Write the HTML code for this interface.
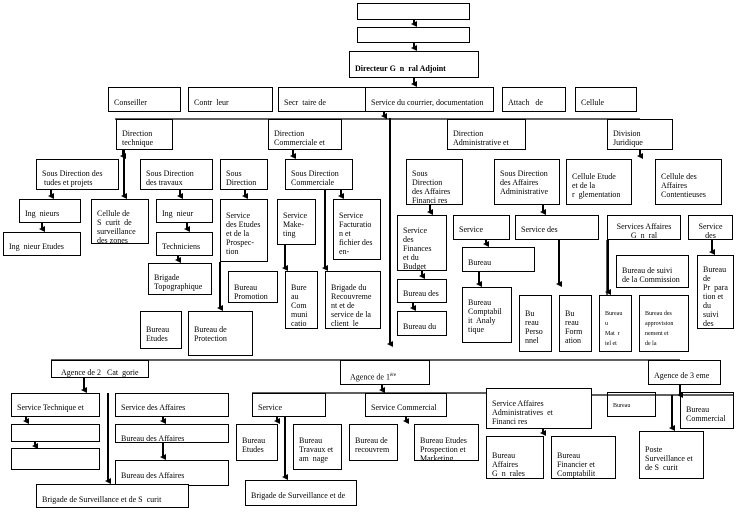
<!DOCTYPE html>
<html><head><meta charset="utf-8"><style>
body{margin:0;width:739px;height:512px;background:#fff;position:relative;overflow:hidden;font-family:"Liberation Serif",serif;font-size:8px;color:#000}
.b{position:absolute;border:1.3px solid #000;background:#fff;box-sizing:border-box;padding:4px 5px;line-height:9px;overflow:hidden}
svg{position:absolute;left:0;top:0;z-index:2}
</style></head><body>
<svg width="739" height="512">
<defs><marker id="a" markerWidth="6" markerHeight="6" refX="3" refY="3" orient="auto" markerUnits="userSpaceOnUse" viewBox="0 0 6 6"><path d="M0,0 L6,0 L3,6 z" fill="#000"/></marker></defs>
<g stroke="#000" stroke-width="1.3" fill="none">
<line x1="115" y1="119" x2="640" y2="119"/>
<line x1="51" y1="360" x2="680" y2="360"/>
<line x1="252" y1="393" x2="486" y2="393"/>
<line x1="591" y1="395" x2="733" y2="395"/>
<line x1="607" y1="240" x2="607" y2="295"/>
</g>
<g stroke="#000" stroke-width="2" marker-end="url(#a)">
<line x1="414" y1="19" x2="414" y2="24"/>
<line x1="414" y1="42" x2="414" y2="48"/>
<line x1="414" y1="78" x2="414" y2="84"/>
<line x1="384" y1="112" x2="384" y2="116"/>
<line x1="390" y1="118" x2="390" y2="344"/>
<line x1="123" y1="150" x2="123" y2="156"/>
<line x1="124" y1="150" x2="124" y2="196"/>
<line x1="293" y1="150" x2="293" y2="156"/>
<line x1="51" y1="190" x2="51" y2="196"/>
<line x1="42" y1="223" x2="42" y2="229"/>
<line x1="180" y1="190" x2="180" y2="196"/>
<line x1="187" y1="223" x2="187" y2="229"/>
<line x1="178" y1="256" x2="178" y2="260"/>
<line x1="245" y1="190" x2="245" y2="196"/>
<line x1="325" y1="190" x2="325" y2="268"/>
<line x1="341" y1="190" x2="341" y2="196"/>
<line x1="285" y1="245" x2="285" y2="268"/>
<line x1="220" y1="262" x2="220" y2="308"/>
<line x1="430" y1="205" x2="430" y2="212"/>
<line x1="543" y1="205" x2="543" y2="212"/>
<line x1="640" y1="150" x2="640" y2="156"/>
<line x1="486" y1="240" x2="486" y2="244"/>
<line x1="559" y1="240" x2="559" y2="284"/>
<line x1="608" y1="240" x2="608" y2="292"/>
<line x1="712" y1="240" x2="712" y2="252"/>
<line x1="479" y1="272" x2="479" y2="284"/>
<line x1="422" y1="271" x2="422" y2="276"/>
<line x1="413" y1="303" x2="413" y2="308"/>
<line x1="84" y1="377" x2="84" y2="390"/>
<line x1="108" y1="393" x2="108" y2="481"/>
<line x1="26" y1="416" x2="26" y2="421"/>
<line x1="35" y1="442" x2="35" y2="446"/>
<line x1="163" y1="416" x2="163" y2="421"/>
<line x1="163" y1="443" x2="163" y2="457"/>
<line x1="382" y1="385" x2="382" y2="390"/>
<line x1="277" y1="416" x2="277" y2="421"/>
<line x1="285" y1="416" x2="285" y2="477"/>
<line x1="406" y1="416" x2="406" y2="421"/>
<line x1="543" y1="428" x2="543" y2="433"/>
<line x1="680" y1="385" x2="680" y2="395"/>
<line x1="672" y1="395" x2="672" y2="428"/>
</g>
</svg>
<div class="b" style="left:357px;top:3px;width:113px;height:17px"></div>
<div class="b" style="left:357px;top:27px;width:113px;height:16px"></div>
<div class="b" style="left:349px;top:51px;width:130px;height:27px;padding-top:12px;font-weight:bold">Directeur G&nbsp;&nbsp;n&nbsp; ral Adjoint</div>
<div class="b" style="left:108px;top:87px;width:73px;height:25px;padding-top:10px">Conseiller</div>
<div class="b" style="left:188px;top:87px;width:85px;height:25px;padding-top:10px">Contr&nbsp; leur</div>
<div class="b" style="left:278px;top:87px;width:88px;height:25px;padding-top:10px">Secr&nbsp; taire de</div>
<div class="b" style="left:365px;top:87px;width:129px;height:25px;padding-top:10px">Service du courrier, documentation</div>
<div class="b" style="left:502px;top:87px;width:64px;height:25px;padding-top:10px">Attach&nbsp;&nbsp; de</div>
<div class="b" style="left:575px;top:87px;width:62px;height:25px;padding-top:10px">Cellule</div>
<div class="b" style="left:116px;top:119px;width:57px;height:31px;padding-top:9px">Direction<br>technique</div>
<div class="b" style="left:268px;top:119px;width:74px;height:31px;padding-top:9px">Direction<br>Commerciale et</div>
<div class="b" style="left:447px;top:119px;width:79px;height:31px;padding-top:9px">Direction<br>Administrative et</div>
<div class="b" style="left:607px;top:119px;width:66px;height:31px;padding-top:9px">Division<br>Juridique</div>
<div class="b" style="left:36px;top:159px;width:83px;height:31px;padding-top:9px">Sous Direction des<br>&nbsp;tudes et projets</div>
<div class="b" style="left:140px;top:159px;width:73px;height:31px;padding-top:9px">Sous Direction<br>des travaux</div>
<div class="b" style="left:220px;top:159px;width:48px;height:31px;padding-top:9px">Sous<br>Direction</div>
<div class="b" style="left:285px;top:159px;width:68px;height:31px;padding-top:9px">Sous Direction<br>Commerciale</div>
<div class="b" style="left:406px;top:159px;width:57px;height:46px;padding-top:9px">Sous<br>Direction<br>des Affaires<br>Financi res</div>
<div class="b" style="left:494px;top:159px;width:66px;height:46px;padding-top:9px">Sous Direction<br>des Affaires<br>Administrative</div>
<div class="b" style="left:566px;top:159px;width:66px;height:46px;padding-top:12px">Cellule Etude<br>et de la<br>r&nbsp; glementation</div>
<div class="b" style="left:655px;top:159px;width:67px;height:46px;padding-top:12px">Cellule des<br>Affaires<br>Contentieuses</div>
<div class="b" style="left:19px;top:199px;width:62px;height:24px;padding-top:9px">Ing&nbsp; nieurs</div>
<div class="b" style="left:3px;top:232px;width:78px;height:24px;padding-top:9px">Ing&nbsp; nieur Etudes</div>
<div class="b" style="left:91px;top:199px;width:58px;height:45px;padding-top:9px">Cellule de<br>S&nbsp; curit&nbsp; de<br>surveillance<br>des zones</div>
<div class="b" style="left:156px;top:199px;width:57px;height:24px;padding-top:9px">Ing&nbsp; nieur</div>
<div class="b" style="left:156px;top:232px;width:57px;height:24px;padding-top:9px">Techniciens</div>
<div class="b" style="left:148px;top:263px;width:64px;height:32px;padding-top:9px">Brigade<br>Topographique</div>
<div class="b" style="left:220px;top:199px;width:48px;height:63px;padding-top:11px">Service<br>des Etudes<br>et de la<br>Prospec-<br>tion</div>
<div class="b" style="left:277px;top:199px;width:39px;height:46px;padding-top:11px">Service<br>Make-<br>ting</div>
<div class="b" style="left:333px;top:199px;width:48px;height:61px;padding-top:11px">Service<br>Facturatio<br>n et<br>fichier des<br>en-</div>
<div class="b" style="left:228px;top:271px;width:50px;height:32px;padding-top:11px">Bureau<br>Promotion</div>
<div class="b" style="left:285px;top:271px;width:33px;height:58px;padding-top:11px">Bure<br>au<br>Com<br>muni<br>catio</div>
<div class="b" style="left:325px;top:271px;width:56px;height:58px;padding-top:11px">Brigade du<br>Recouvreme<br>nt et de<br>service de la<br>client&nbsp; le</div>
<div class="b" style="left:140px;top:311px;width:42px;height:38px;padding-top:13px">Bureau<br>Etudes</div>
<div class="b" style="left:188px;top:311px;width:65px;height:45px;padding-top:13px">Bureau de<br>Protection</div>
<div class="b" style="left:397px;top:215px;width:50px;height:56px;padding-top:10px">Service<br>des<br>Finances<br>et du<br>Budget</div>
<div class="b" style="left:453px;top:215px;width:57px;height:25px;padding-top:9px">Service</div>
<div class="b" style="left:462px;top:247px;width:73px;height:25px;padding-top:10px">Bureau</div>
<div class="b" style="left:397px;top:279px;width:50px;height:24px;padding-top:9px">Bureau des</div>
<div class="b" style="left:397px;top:311px;width:50px;height:25px;padding-top:10px">Bureau du</div>
<div class="b" style="left:462px;top:287px;width:50px;height:56px;padding-top:10px">Bureau<br>Comptabil<br>it&nbsp; Analy<br>tique</div>
<div class="b" style="left:515px;top:215px;width:84px;height:25px;padding-top:9px">Service des</div>
<div class="b" style="left:607px;top:215px;width:74px;height:25px;padding-top:6px;text-align:center">Services Affaires<br>G&nbsp; n&nbsp; ral</div>
<div class="b" style="left:688px;top:215px;width:45px;height:25px;padding-top:6px;text-align:center">Service<br>des</div>
<div class="b" style="left:616px;top:255px;width:73px;height:33px;padding-top:10px">Bureau de suivi<br>de la Commission</div>
<div class="b" style="left:697px;top:255px;width:37px;height:74px;padding-top:9px">Bureau<br>de<br>Pr&nbsp; para<br>tion et<br>du suivi<br>des</div>
<div class="b" style="left:519px;top:295px;width:33px;height:57px;padding-top:13px">Bu<br>reau<br>Perso<br>nnel</div>
<div class="b" style="left:559px;top:295px;width:33px;height:57px;padding-top:13px">Bu<br>reau<br>Form<br>ation</div>
<div class="b" style="left:599px;top:295px;width:33px;height:57px;padding-top:13px;font-size:6px;line-height:10px">Bureau<br>u<br>Mat&nbsp; r<br>iel et<br>entreti</div>
<div class="b" style="left:639px;top:295px;width:50px;height:57px;padding-top:13px;font-size:6px;line-height:10px">Bureau des<br>approvision<br>nement et<br>de la<br>Comptabilit</div>
<div class="b" style="left:51px;top:360px;width:98px;height:18px;padding-top:7px">&nbsp;&nbsp;Agence de 2&nbsp;&nbsp; Cat&nbsp; gorie</div>
<div class="b" style="left:340px;top:360px;width:90px;height:25px;padding-top:10px">&nbsp;&nbsp;Agence de 1<sup style="font-size:5px">ère</sup></div>
<div class="b" style="left:648px;top:360px;width:73px;height:25px;padding-top:10px">Agence de 3 eme</div>
<div class="b" style="left:11px;top:393px;width:89px;height:24px;padding-top:9px">Service Technique et</div>
<div class="b" style="left:115px;top:393px;width:114px;height:24px;padding-top:9px">Service des Affaires</div>
<div class="b" style="left:11px;top:424px;width:89px;height:18px"></div>
<div class="b" style="left:11px;top:448px;width:89px;height:22px"></div>
<div class="b" style="left:115px;top:424px;width:114px;height:19px;padding-top:9px">Bureau des Affaires</div>
<div class="b" style="left:115px;top:460px;width:114px;height:26px;padding-top:10px">Bureau des Affaires</div>
<div class="b" style="left:36px;top:484px;width:153px;height:24px;padding-top:10px">Brigade de Surveillance et de S&nbsp; curit</div>
<div class="b" style="left:252px;top:393px;width:74px;height:24px;padding-top:9px">Service</div>
<div class="b" style="left:365px;top:393px;width:82px;height:24px;padding-top:9px">Service Commercial</div>
<div class="b" style="left:236px;top:424px;width:42px;height:37px;padding-top:11px">Bureau<br>Etudes</div>
<div class="b" style="left:293px;top:424px;width:49px;height:46px;padding-top:11px">Bureau<br>Travaux et<br>am&nbsp; nage</div>
<div class="b" style="left:349px;top:424px;width:49px;height:37px;padding-top:11px">Bureau de<br>recouvrem</div>
<div class="b" style="left:414px;top:424px;width:65px;height:37px;padding-top:11px">Bureau Etudes<br>Prospection et<br>Marketing</div>
<div class="b" style="left:245px;top:480px;width:112px;height:26px;padding-top:10px">Brigade de Surveillance et de</div>
<div class="b" style="left:486px;top:388px;width:106px;height:41px;padding-top:10px">Service Affaires<br>Administratives&nbsp; et<br>Financi res</div>
<div class="b" style="left:486px;top:436px;width:58px;height:43px;padding-top:14px">Bureau<br>Affaires<br>G&nbsp; n&nbsp; rales</div>
<div class="b" style="left:551px;top:436px;width:65px;height:43px;padding-top:14px">Bureau<br>Financier et<br>Comptabilit</div>
<div class="b" style="left:607px;top:392px;width:49px;height:25px;padding-top:9px;font-size:6px">Bureau</div>
<div class="b" style="left:680px;top:392px;width:54px;height:37px;padding-top:12px">Bureau<br>Commercial</div>
<div class="b" style="left:639px;top:431px;width:65px;height:48px;padding-top:13px">Poste<br>Surveillance et<br>de S&nbsp; curit</div>
</body></html>
